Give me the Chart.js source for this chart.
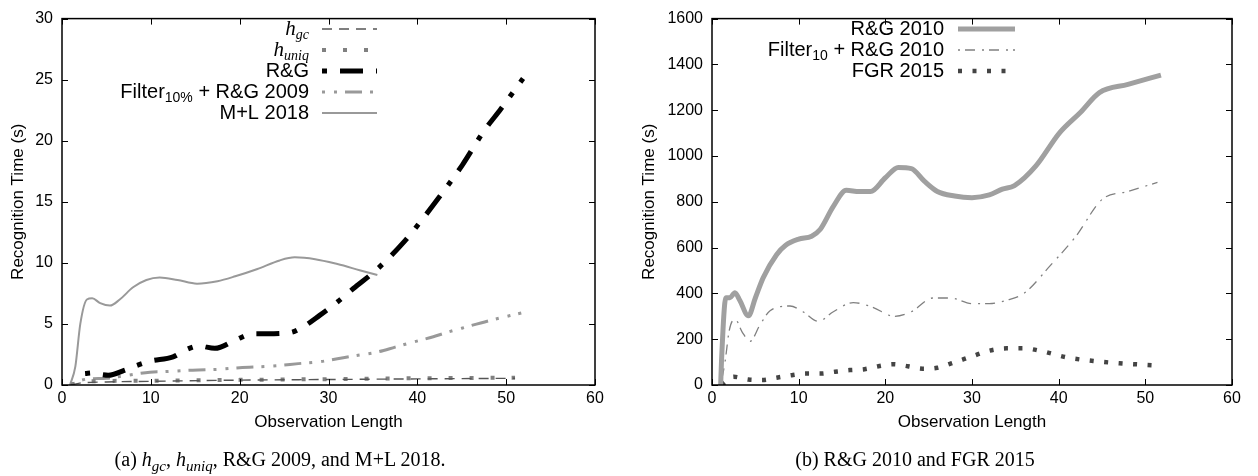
<!DOCTYPE html>
<html>
<head>
<meta charset="utf-8">
<script src="https://cdn.jsdelivr.net/npm/chart.js@4.4.1/dist/chart.umd.min.js"></script>
<style>
body { margin: 0; background: #fff; width: 1258px; height: 476px; overflow: hidden; position: relative; }
.box { position: absolute; top: 0; width: 629px; height: 476px; }
.cap { position: absolute; top: 447px; font-family: "Liberation Serif", serif; font-size: 20px; line-height: 24px; white-space: nowrap; transform: translateX(-50%); color: #000; }
.cap sub { font-size: 15px; line-height: 0; }
</style>
</head>
<body>
<div class="box" style="left:0"><canvas id="chartA"></canvas></div>
<div class="box" style="left:629px"><canvas id="chartB"></canvas></div>
<div class="cap" style="left:280px">(a) <i>h<sub>gc</sub></i>, <i>h<sub>uniq</sub></i>, R&amp;G 2009, and M+L 2018.</div>
<div class="cap" style="left:915px">(b) R&amp;G 2010 and FGR 2015</div>
<script>
// ---- left panel (a) ----
const hgcX = [1, 2, 5, 10, 20, 30, 40, 51];
const hgcY = [0, 0.15, 0.25, 0.3, 0.4, 0.45, 0.5, 0.55];

const huniqX = [1, 3, 10, 20, 30, 40, 51];
const huniqY = [0.05, 0.3, 0.35, 0.42, 0.48, 0.55, 0.6];

const rg2009X = [2.6, 3.5, 4.5, 5.2, 7, 8.4, 9.9, 12.5, 14, 15.4, 17.2, 19.7, 21.5, 23, 25.7, 27, 29, 31, 32.8, 35.5, 38.6, 40.6, 43.3, 45.1, 47.5, 49.4, 51.9];
const rg2009Y = [0.95, 1.0, 0.85, 0.8, 1.2, 1.6, 1.95, 2.3, 2.9, 3.2, 3.0, 3.75, 4.2, 4.2, 4.3, 4.7, 5.7, 6.8, 7.9, 9.5, 11.8, 13.6, 16.2, 18.05, 20.8, 22.6, 25.1];

const filt2009X = [1, 2, 3, 5, 7, 9.9, 11.8, 14, 16.3, 18, 20, 23, 24.5, 26.6, 29, 31, 33, 35.5, 37.5, 39.2, 41.8, 43.3, 45, 48, 51.7];
const filt2009Y = [0.05, 0.35, 0.5, 0.55, 0.75, 1.05, 1.1, 1.2, 1.25, 1.3, 1.42, 1.52, 1.6, 1.75, 1.9, 2.15, 2.4, 2.7, 3.1, 3.45, 3.95, 4.3, 4.65, 5.25, 5.9];

const mlX = [0.9, 1.5, 2.06, 2.8, 3.4, 4.3, 5.4, 6.5, 8, 9.5, 11, 13, 15.2, 17.5, 19.5, 22, 24.5, 26.2, 28.5, 31, 33.5, 35.5];
const mlY = [0, 1.5, 5.0, 7.0, 7.1, 6.7, 6.5, 7.0, 8.0, 8.6, 8.8, 8.6, 8.3, 8.5, 8.9, 9.5, 10.2, 10.45, 10.3, 9.9, 9.4, 9.0];

// ---- right panel (b) ----
const rg2010X = [1, 1.1, 1.6, 2.07, 2.65, 3.2, 4.2, 5, 5.9, 7.45, 8.5, 10, 11.5, 12.5, 14, 15.5, 17, 18.3, 20, 21.5, 23, 24.5, 26, 28, 30, 32, 33.5, 34.9, 37.4, 40.1, 42.5, 44.7, 48, 51.8];
const rg2010Y = [0, 108, 381, 381, 403, 370, 302, 380, 468, 569, 610, 637, 650, 680, 780, 850, 845, 845, 905, 950, 945, 890, 845, 825, 818, 830, 855, 871, 958, 1101, 1190, 1277, 1313, 1353];

const filt2010X = [1, 1.5, 2, 2.65, 3.5, 4.4, 5.5, 6.7, 9.0, 10.5, 12.25, 14, 16.3, 18.5, 21, 23, 25.5, 27.5, 30, 32, 34, 36, 39, 42, 45, 48, 51.4];
const filt2010Y = [0, 100, 240, 288, 230, 191, 260, 324, 345, 320, 278, 320, 360, 340, 300, 320, 380, 380, 355, 355, 370, 400, 520, 650, 810, 845, 885];

const fgrX = [1.1, 2.5, 4.2, 5.8, 7.45, 9.2, 10.8, 12.5, 14.2, 15.9, 17.6, 19.2, 20.9, 22.6, 24.3, 26, 27.6, 30, 32, 34, 36, 38, 41, 44, 47, 51.5];
const fgrY = [0, 36, 24, 22, 32, 43, 50, 50, 58, 65, 69, 82, 91, 82, 71, 75, 94, 125, 150, 160, 160, 148, 120, 105, 95, 85];

// legend text pieces (sub = subscript, it = italic serif)
const keyA = [
  [{ t: 'h', it: true }, { t: 'gc', it: true, sub: true }],
  [{ t: 'h', it: true }, { t: 'uniq', it: true, sub: true }],
  [{ t: 'R&G' }],
  [{ t: 'Filter' }, { t: '10%', sub: true }, { t: ' + R&G 2009' }],
  [{ t: 'M+L 2018' }]
];
const keyB = [
  [{ t: 'R&G 2010' }],
  [{ t: 'Filter' }, { t: '10', sub: true }, { t: ' + R&G 2010' }],
  [{ t: 'FGR 2015' }]
];

const SANS = '"Liberation Sans", Arial, Helvetica, sans-serif';

function pts(xs, ys) {
  return xs.map((x, i) => ({ x: x, y: ys[i] }));
}

function partFont(p) {
  const size = p.sub ? 14 : (p.it ? 21 : 20);
  return p.it ? 'italic ' + size + 'px "Liberation Serif", serif' : size + 'px ' + SANS;
}

function makeKey(rows, textRight, x0, x1, top, gap) {
  return {
    id: 'key',
    afterDraw(chart) {
      const ctx = chart.ctx;
      ctx.save();
      ctx.fillStyle = '#000';
      ctx.textBaseline = 'middle';
      rows.forEach((row, i) => {
        const y = top + i * gap;
        let w = 0;
        row.forEach(p => { ctx.font = partFont(p); w += ctx.measureText(p.t).width; });
        let x = textRight - w;
        row.forEach(p => {
          ctx.font = partFont(p);
          ctx.fillText(p.t, x, y + (p.sub ? 6 : 0));
          x += ctx.measureText(p.t).width;
        });
        const ds = chart.data.datasets[i];
        ctx.strokeStyle = ds.borderColor;
        ctx.lineWidth = ds.borderWidth;
        ctx.setLineDash(ds.borderDash || []);
        ctx.beginPath();
        ctx.moveTo(x0, y);
        ctx.lineTo(x1, y);
        ctx.stroke();
      });
      ctx.restore();
    }
  };
}

const frame = {
  id: 'frame',
  afterDraw(chart) {
    const { ctx, chartArea: a, scales } = chart;
    const tl = 6;
    ctx.save();
    ctx.setLineDash([]);
    ctx.strokeStyle = '#000';
    ctx.lineWidth = 1;
    ctx.beginPath();
    scales.x.ticks.forEach(t => {
      const p = Math.round(scales.x.getPixelForValue(t.value)) + 0.5;
      ctx.moveTo(p, a.bottom); ctx.lineTo(p, a.bottom - tl);
      ctx.moveTo(p, a.top); ctx.lineTo(p, a.top + tl);
    });
    scales.y.ticks.forEach(t => {
      const p = Math.round(scales.y.getPixelForValue(t.value)) + 0.5;
      ctx.moveTo(a.left, p); ctx.lineTo(a.left + tl, p);
      ctx.moveTo(a.right, p); ctx.lineTo(a.right - tl, p);
    });
    ctx.stroke();
    ctx.lineWidth = 1.5;
    ctx.strokeRect(a.left, a.top, a.right - a.left, a.bottom - a.top);
    ctx.restore();
  }
};

function line(label, xs, ys, color, width, dash) {
  return {
    label: label,
    data: pts(xs, ys),
    borderColor: color,
    borderWidth: width,
    borderDash: dash,
    pointRadius: 0,
    fill: false,
    cubicInterpolationMode: 'monotone'
  };
}

function options(yMax, yStep, yWidth, yTitlePad, pad) {
  return {
    responsive: true,
    maintainAspectRatio: false,
    animation: false,
    devicePixelRatio: 1,
    layout: { padding: pad },
    plugins: { legend: { display: false }, tooltip: { enabled: false } },
    scales: {
      x: {
        type: 'linear', min: 0, max: 60,
        grid: { display: false, drawTicks: false },
        border: { display: false },
        ticks: { stepSize: 10, padding: 4, color: '#000', font: { family: SANS, size: 16 }, callback: v => String(v) },
        title: { display: true, text: 'Observation Length', color: '#000', padding: { top: 0, bottom: 0 }, font: { family: SANS, size: 17 } },
        afterFit: s => { s.height = 48; }
      },
      y: {
        min: 0, max: yMax,
        grid: { display: false, drawTicks: false },
        border: { display: false },
        ticks: { stepSize: yStep, padding: 9, color: '#000', font: { family: SANS, size: 16 }, callback: v => String(v) },
        title: { display: true, text: 'Recognition Time (s)', color: '#000', padding: { top: yTitlePad, bottom: 0 }, font: { family: SANS, size: 17 } },
        afterFit: s => { s.width = yWidth; }
      }
    }
  };
}

new Chart(document.getElementById('chartA'), {
  type: 'line',
  data: {
    datasets: [
      line('h_gc', hgcX, hgcY, '#555555', 1.4, [10, 7]),
      line('h_uniq', huniqX, huniqY, '#808080', 4, [4, 17]),
      line('R&G', rg2009X, rg2009Y, '#000000', 5, [5, 13, 23, 13]),
      line('Filter10% + R&G 2009', filt2009X, filt2009Y, '#999999', 3, [3, 9, 3, 8, 17, 8]),
      line('M+L 2018', mlX, mlY, '#999999', 2, [])
    ]
  },
  options: options(30, 5, 62, 8, { left: 0, top: 14, right: 34, bottom: 43 }),
  plugins: [frame, makeKey(keyA, 309, 322, 377, 29, 21)]
});

new Chart(document.getElementById('chartB'), {
  type: 'line',
  data: {
    datasets: [
      line('R&G 2010', rg2010X, rg2010Y, '#a0a0a0', 5, []),
      line('Filter10 + R&G 2010', filt2010X, filt2010Y, '#808080', 1.3, [2, 5, 10, 7]),
      line('FGR 2015', fgrX, fgrY, '#444444', 4.5, [4, 10.5])
    ]
  },
  options: options(1600, 200, 83, 10, { left: 0, top: 15, right: 26, bottom: 43 }),
  plugins: [frame, makeKey(keyB, 315, 329, 386, 29, 21)]
});
</script>
</body>
</html>
